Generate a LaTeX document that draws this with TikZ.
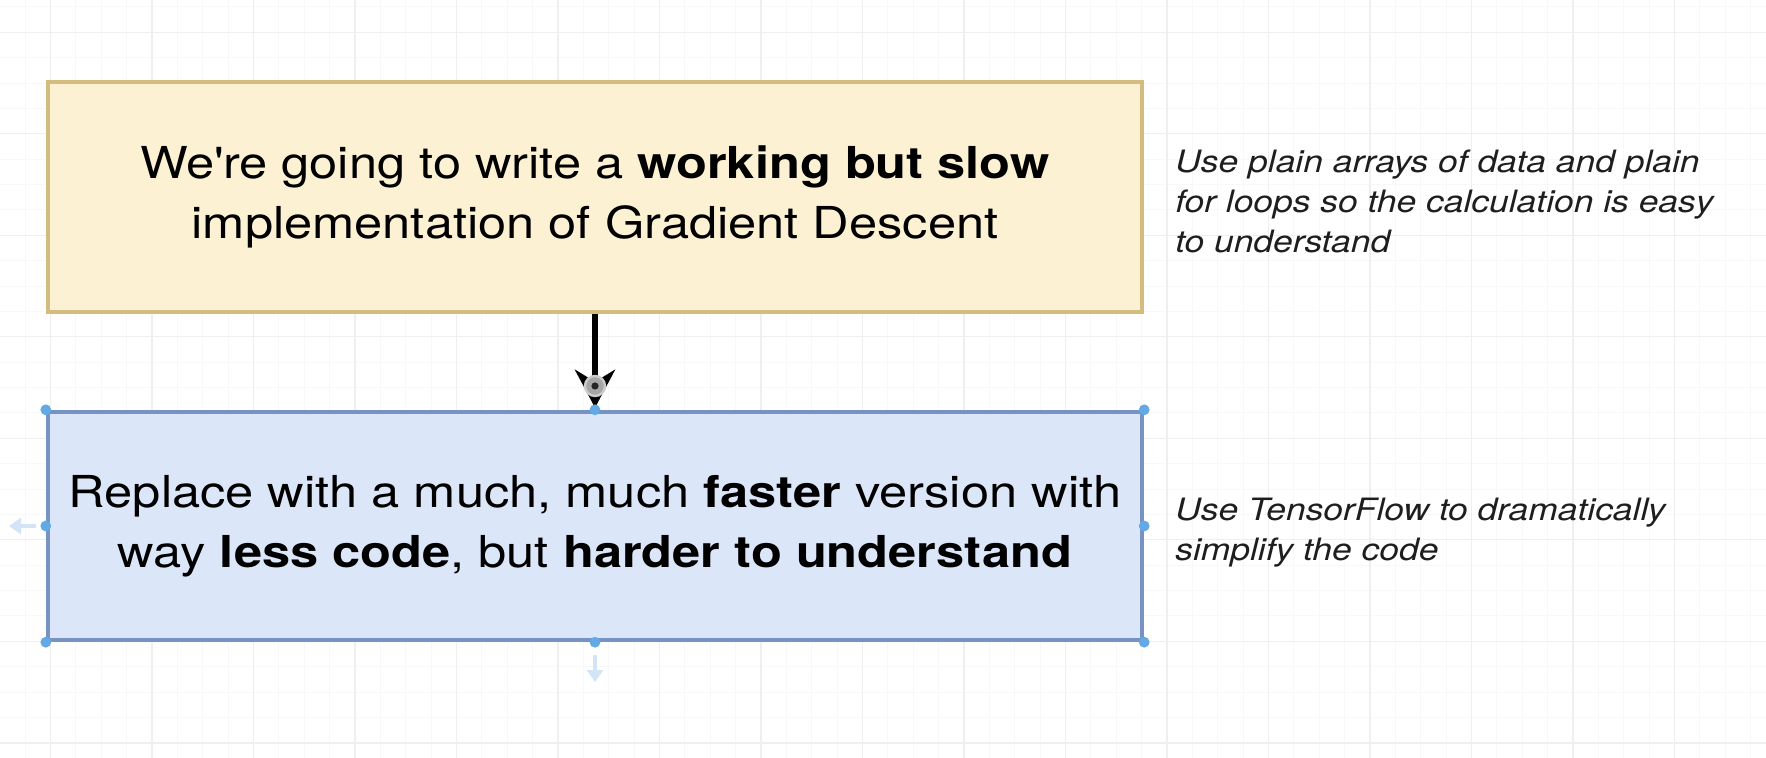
\documentclass[tikz,border=0pt]{standalone}
\usepackage{fontspec}
\setmainfont{TeX Gyre Heros}[FakeStretch=1.15,Ligatures=TeXOff]
\usetikzlibrary{arrows.meta}
\definecolor{yfill}{HTML}{FCF1D3}
\definecolor{ydraw}{HTML}{D4BC7E}
\definecolor{bfill}{HTML}{DCE6F9}
\definecolor{bdraw}{HTML}{7693C4}
\definecolor{handlecol}{HTML}{62A9E6}
\definecolor{hintcol}{HTML}{D3E4F6}
\definecolor{gridmajor}{HTML}{EFEFEF}
\definecolor{gridminor}{HTML}{F8F8F8}
\definecolor{notecol}{HTML}{1E1E1E}
\begin{document}
\begin{tikzpicture}[x=0.5pt,y=-0.5pt,
  box/.style={draw, line width=2.2pt, minimum width=547pt, inner sep=0pt, align=center,
    font=\fontsize{22}{30}\selectfont},
  note/.style={anchor=north west, inner sep=0pt, align=left, text=notecol,
    font=\fontsize{15.4}{20}\selectfont\itshape},
  minorline/.style={draw=gridminor, line width=0.5pt},
  majorline/.style={draw=gridmajor, line width=0.7pt},
  handle/.style={fill=handlecol},
  hint/.style={draw=hintcol, line width=2pt, -{Triangle[length=6pt,width=8pt]}}]
\useasboundingbox (0,0) rectangle (1766,758);
\fill[white] (0,0) rectangle (1766,758);
% grid
\foreach \k in {-2,...,67} {\draw[minorline] ({50.5+25.375*\k},0) -- ({50.5+25.375*\k},758);}
\foreach \k in {-1,...,28} {\draw[minorline] (0,{32.3+25.375*\k}) -- (1766,{32.3+25.375*\k});}
\foreach \k in {0,...,17} {\draw[majorline] ({50.5+101.5*\k},0) -- ({50.5+101.5*\k},758);}
\foreach \k in {0,...,7} {\draw[majorline] (0,{32.3+101.5*\k}) -- (1766,{32.3+101.5*\k});}
% boxes
\node[box, draw=ydraw, fill=yfill, minimum height=115pt] (slow) at (595,197)
  {We\textquotesingle re going to write a \textbf{working but slow}\\implementation of Gradient Descent};
\node[box, draw=bdraw, fill=bfill, minimum height=114pt] (fast) at (595,526)
  {Replace with a much, much \textbf{faster} version with\\way \textbf{less code}, but \textbf{harder to understand}};
% notes
\node[note] (note1) at (1175,150) {Use plain arrays of data and plain\\for loops so the calculation is easy\\to understand};
\node[note] (note2) at (1175,498) {Use TensorFlow to dramatically\\simplify the code};
% connector
\draw[line width=3pt, -{Stealth[length=19pt,width=20pt,inset=6pt]}, shorten >=1pt] (slow.south) -- (fast.north);
\coordinate (ring) at (595,386);
\draw[gray!40, line width=1.2pt, fill=gray!70] (ring) circle (5pt);
\fill[black!85] (ring) circle (1.8pt);
% selection handles
\foreach \a in {north west,north,north east,east,south east,south,south west,west}
  {\fill[handle] (fast.\a) circle (2.7pt);}
% hover hints
\coordinate (hl1) at (36,526); \coordinate (hl2) at (9,526);
\coordinate (hd1) at (595,655); \coordinate (hd2) at (595,682);
\draw[hint] (hl1) -- (hl2);
\draw[hint] (hd1) -- (hd2);
\end{tikzpicture}
\end{document}
